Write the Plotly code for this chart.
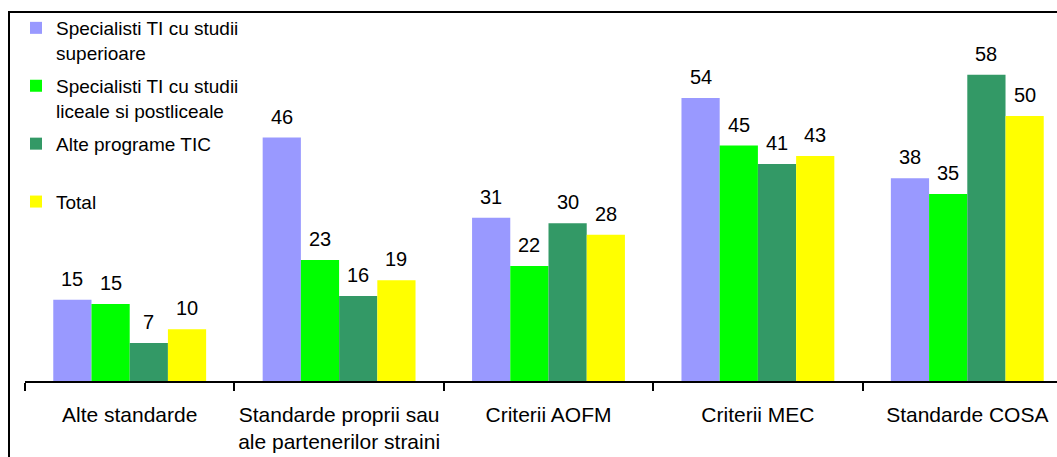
import plotly.graph_objects as go

categories = ["Alte standarde", "Standarde proprii sau<br>ale partenerilor straini",
              "Criterii AOFM", "Criterii MEC", "Standarde COSA"]
series_names = ["Specialisti TI cu studii<br>superioare",
                "Specialisti TI cu studii<br>liceale si postliceale",
                "Alte programe TIC<br> ",
                "Total"]
# values (labels show them rounded)
v_superioare = [15.4, 46.1, 30.9, 53.6, 38.4]
v_liceale = [14.6, 22.9, 21.8, 44.6, 35.4]
v_alte = [7.2, 16.1, 29.9, 41.1, 58.0]
v_total = [9.8, 19.1, 27.7, 42.6, 50.2]
colors = ["#9999FF", "#00FF00", "#339966", "#FFFF00"]

W, H = 1057, 457
L, R, T, B = 25, 0, 20, 76
plot_w = W - L - R
plot_h = H - T - B
px_per_unit = 5.28
cat_px = 209.4
bargap = 0.27
FONT = "Liberation Sans, Arial, sans-serif"

all_series = [v_superioare, v_liceale, v_alte, v_total]
n = len(all_series)
bar_w = (1 - bargap) / n

fig = go.Figure()
annotations = []
for k, (name, vals, col) in enumerate(zip(series_names, all_series, colors)):
    fig.add_trace(go.Bar(
        x=categories, y=vals, name=name, legendgroup="g%d" % k,
        marker=dict(color=col, line=dict(width=0)),
        hoverinfo="x+y",
    ))
    for i, v in enumerate(vals):
        annotations.append(dict(
            x=i + (k - (n - 1) / 2) * bar_w, y=v, xref="x", yref="y",
            text="%.0f" % v, showarrow=False, xanchor="center", yanchor="middle",
            yshift=21, font=dict(family=FONT, size=20, color="#000000"),
        ))

fig.update_layout(
    width=W, height=H, autosize=False,
    margin=dict(l=L, r=R, t=T, b=B, pad=0, autoexpand=False),
    paper_bgcolor="white", plot_bgcolor="white",
    barmode="group", bargap=bargap, bargroupgap=0,
    font=dict(family=FONT, size=19, color="#000000"),
    showlegend=True,
    legend=dict(
        x=(16 - L) / plot_w, y=1 + (T - 9) / plot_h, xanchor="left", yanchor="top",
        bgcolor="rgba(0,0,0,0)", borderwidth=0,
        font=dict(family=FONT, size=19, color="#000000"),
        valign="top", traceorder="grouped", tracegroupgap=5.5, itemclick=False,
    ),
    xaxis=dict(
        range=[-0.5, -0.5 + plot_w / cat_px], automargin=False, tickangle=0,
        showline=True, linecolor="#000000", linewidth=1.5,
        ticks="outside", tickson="boundaries", ticklen=8, tickcolor="#000000", tickwidth=1.5,
        showgrid=False, zeroline=False,
        tickfont=dict(family=FONT, size=21, color="#000000"),
        ticklabelstandoff=14,
    ),
    yaxis=dict(range=[0, plot_h / px_per_unit], visible=False, showgrid=False,
               zeroline=False, automargin=False),
    annotations=annotations,
    shapes=[dict(
        type="rect", xref="paper", yref="paper",
        x0=(9 - L) / plot_w, x1=1.05,
        y0=-0.5, y1=1 + (T - 12) / plot_h,
        line=dict(color="#000000", width=2), fillcolor="rgba(0,0,0,0)", layer="above",
    )],
)

fig.write_html("out.html", config={"displayModeBar": False},
               post_script="document.body.style.margin='0px';")
